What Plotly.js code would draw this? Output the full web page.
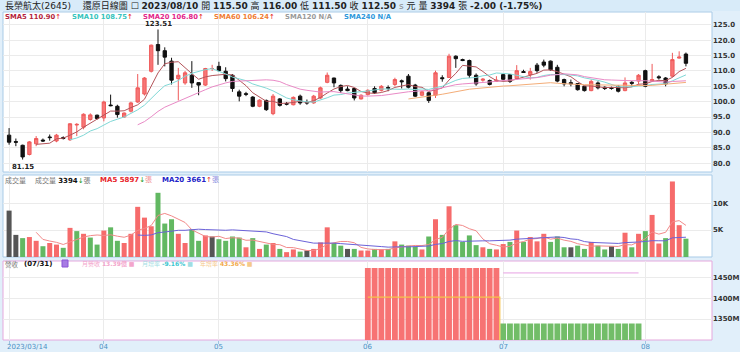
<!DOCTYPE html>
<html><head><meta charset="utf-8">
<script src="https://cdn.plot.ly/plotly-3.0.1.min.js"></script>
<style>html,body{margin:0;padding:0;background:#e1effa}#chart{width:740px;height:352px}</style>
</head><body><div id="chart"></div><script>
// ---------- data ----------
const dates = [
'2023-03-14','2023-03-15','2023-03-16','2023-03-17','2023-03-20','2023-03-21','2023-03-22','2023-03-23','2023-03-24','2023-03-27','2023-03-28','2023-03-29','2023-03-30','2023-03-31',
'2023-04-06','2023-04-07','2023-04-10','2023-04-11','2023-04-12','2023-04-13','2023-04-14','2023-04-17','2023-04-18','2023-04-19','2023-04-20','2023-04-21','2023-04-24','2023-04-25','2023-04-26','2023-04-27','2023-04-28',
'2023-05-02','2023-05-03','2023-05-04','2023-05-05','2023-05-08','2023-05-09','2023-05-10','2023-05-11','2023-05-12','2023-05-15','2023-05-16','2023-05-17','2023-05-18','2023-05-19','2023-05-22','2023-05-23','2023-05-24','2023-05-25','2023-05-26','2023-05-29','2023-05-30','2023-05-31',
'2023-06-01','2023-06-02','2023-06-05','2023-06-06','2023-06-07','2023-06-08','2023-06-09','2023-06-12','2023-06-13','2023-06-14','2023-06-15','2023-06-16','2023-06-19','2023-06-20','2023-06-21','2023-06-26','2023-06-27','2023-06-28','2023-06-29','2023-06-30',
'2023-07-03','2023-07-04','2023-07-05','2023-07-06','2023-07-07','2023-07-10','2023-07-11','2023-07-12','2023-07-13','2023-07-14','2023-07-17','2023-07-18','2023-07-19','2023-07-20','2023-07-21','2023-07-24','2023-07-25','2023-07-26','2023-07-27','2023-07-28','2023-07-31',
'2023-08-01','2023-08-02','2023-08-04','2023-08-07','2023-08-08','2023-08-09','2023-08-10'];
const openP = [89.1,87.0,85.8,82.8,86.3,87.5,88.5,87.2,88.3,87.6,92.4,91.7,94.2,95.6,94.7,98.9,98.5,95.0,96.9,99.9,
102.5,109.9,118.6,116.6,113.2,107.5,106.1,108.6,106.2,105.4,110.8,111.5,109.9,108.6,103.2,102.6,101.5,98.5,100.4,96.1,
100.9,99.4,99.0,101.8,99.7,99.6,101.2,106.3,107.7,105.3,104.1,104.3,100.9,102.3,104.3,103.7,104.6,105.6,106.8,108.3,
105.4,102.1,102.9,102.1,107.8,107.9,114.8,113.7,113.4,108.6,107.0,106.9,106.6,108.8,108.8,107.5,109.8,108.8,111.9,112.9,
113.2,111.2,107.2,106.2,105.9,105.0,103.6,106.1,104.7,104.5,105.0,103.6,106.3,106.7,110.1,106.7,108.1,107.7,108.3,114.2,115.5];
const highP = [91.4,88.0,86.0,87.2,88.8,88.0,89.3,89.5,88.7,93.0,93.0,96.2,96.2,95.8,100.3,102.3,99.0,96.5,100.0,109.0,
108.0,118.6,123.51,117.7,114.3,111.0,110.0,113.2,106.3,111.0,112.0,113.0,111.2,109.0,103.9,103.2,101.8,100.8,100.7,102.5,
101.2,99.9,101.7,102.3,100.7,102.2,104.9,109.5,107.8,105.6,105.0,104.5,102.4,104.0,105.0,105.4,105.3,107.8,107.2,109.0,
105.8,103.5,103.2,110.1,108.6,115.6,115.1,114.0,113.7,109.2,107.7,107.2,108.3,109.0,109.0,111.9,110.4,111.0,112.6,113.7,
113.4,112.0,107.5,107.2,106.0,105.2,107.2,106.6,105.0,104.9,105.3,107.9,106.7,109.0,110.4,112.3,108.6,108.0,115.9,116.4,116.0];
const lowP = [86.0,85.5,81.15,82.5,85.5,86.9,87.3,86.8,87.7,87.2,88.8,91.0,93.8,94.2,93.6,98.5,94.8,94.8,96.5,99.6,
102.0,109.5,112.0,111.5,105.6,100.4,105.5,104.5,102.1,105.1,110.0,109.9,106.6,103.2,100.1,101.8,98.2,98.2,97.0,95.6,
98.4,98.8,98.8,99.0,99.0,99.3,100.9,106.0,104.7,102.8,103.4,100.4,100.7,102.0,102.5,103.3,103.4,105.0,104.3,104.3,
101.5,101.8,99.6,101.2,106.5,107.7,111.0,113.2,107.7,105.2,106.5,105.3,106.4,106.6,106.1,107.3,109.4,107.2,109.4,111.2,
110.1,106.3,105.0,105.0,103.6,103.3,103.4,104.0,103.8,103.9,103.0,103.4,105.0,105.6,104.7,106.5,107.2,105.0,108.0,114.0,111.5];
const closeP = [86.8,86.8,82.0,86.9,88.0,87.2,88.3,89.1,88.0,92.8,92.6,95.9,95.7,94.5,99.9,98.7,95.8,96.3,99.6,104.5,
107.7,118.4,116.6,114.5,107.0,108.6,109.4,106.1,105.4,110.8,110.8,110.1,107.5,104.3,101.8,102.4,98.5,100.5,97.4,101.8,
98.8,99.2,101.4,99.6,99.6,101.8,104.5,108.6,106.1,103.6,103.6,101.2,102.1,103.7,102.9,105.0,104.4,107.2,106.5,104.7,
101.8,103.2,100.4,109.4,107.5,114.8,114.0,113.4,108.6,105.8,107.3,105.6,107.0,107.3,106.6,110.1,109.5,109.8,110.1,111.9,
110.4,106.7,105.8,105.8,103.9,103.6,106.6,104.5,104.3,104.3,103.4,106.1,106.0,108.6,105.0,107.2,107.8,105.8,113.7,114.5,112.5];
const volume = [8600,4100,3500,3700,3000,2000,2600,2300,1700,5400,4800,4300,3600,2300,4900,5500,3000,2600,4300,9300,
7300,5700,11900,6200,7000,4300,2600,5100,3000,4000,3800,3300,3000,3800,3600,1800,3500,1500,2300,2600,
1500,900,1400,1000,1200,1500,2700,5500,2600,2100,1500,1500,1200,1200,1500,1400,1500,2900,2300,2100,
1900,1400,3800,7000,4100,9400,5900,2800,4000,2200,1800,1500,1400,2400,2800,4900,2800,3700,2900,4300,
2800,3800,1800,1800,2100,1500,2800,2100,1400,2000,1500,4500,1800,4300,4800,7800,2500,3500,14000,5900,3394];
const revMonths = ['2023-06','2023-07'];
const revValues = [1474, 1339];       // 月營收 (百萬)
const revMoM = [8.4, -9.16];          // 月增率 %
const revLastYear = [1403, 1290];     // 去年同月營收 (百萬, 七月低於顯示範圍)
const revPrevMonth = [null, 1462];    // 前月營收線 (百萬)
const priceTicks = [80,85,90,95,100,105,110,115,120,125];
const volTicks = [5000,10000];
const volTickText = ['5K','10K'];
const revTicks = [1350,1400,1450];
const revTickText = ['1350M','1400M','1450M'];

// ---------- helpers ----------
const xi = dates.map((d,i)=>i);
function sma(arr,n){return arr.map((v,i)=>{if(i<n-1)return null;let s=0;for(let k=i-n+1;k<=i;k++)s+=arr[k];return s/n;});}
const X = px => (px-3)/709, Y = py => (340-py)/328;
const RED='#f66b6b', GREEN='#62b862', GRAY='#555';

const volColors = closeP.map((c,i)=> i===0 ? GRAY : (c>closeP[i-1]?RED:(c<closeP[i-1]?GREEN:GRAY)));

const tickIdx=[], tickTxt=[];
dates.forEach((d,i)=>{ if(i===0 || d.slice(5,7)!==dates[i-1].slice(5,7)){ tickIdx.push(i); tickTxt.push(i===0?d.replace(/-/g,'/'):d.slice(5,7)); }});

const revX=[], revY=[], revC=[], lyY=[], pmY=[];
dates.forEach((d,i)=>{ const k=revMonths.indexOf(d.slice(0,7)); if(k>=0){revX.push(i);revY.push(revValues[k]);lyY.push(revLastYear[k]);pmY.push(revPrevMonth[k]);revC.push(revMoM[k]>=0?'#f77373':'#72bd68');}});

let hiI=0, loI=0;
highP.forEach((v,i)=>{if(v>highP[hiI])hiI=i;}); lowP.forEach((v,i)=>{if(v<lowP[loI])loI=i;});

const traces = [
 {type:'candlestick', x:xi, open:openP, high:highP, low:lowP, close:closeP, xaxis:'x', yaxis:'y',
  increasing:{line:{color:'#ef5a5a',width:1}, fillcolor:'#f77777'},
  decreasing:{line:{color:'#111',width:1}, fillcolor:'#111'}, whiskerwidth:0, hoverinfo:'skip'},
 {type:'scatter',mode:'lines',x:xi,y:sma(closeP,5),line:{color:'#b4545a',width:1},yaxis:'y'},
 {type:'scatter',mode:'lines',x:xi,y:sma(closeP,10),line:{color:'#80d8d6',width:1},yaxis:'y'},
 {type:'scatter',mode:'lines',x:xi,y:sma(closeP,20),line:{color:'#e98ac6',width:1},yaxis:'y'},
 {type:'scatter',mode:'lines',x:xi,y:sma(closeP,60),line:{color:'#f4ad78',width:1},yaxis:'y'},
 {type:'bar',x:xi,y:volume,marker:{color:volColors,line:{width:0}},width:0.74,yaxis:'y2'},
 {type:'scatter',mode:'lines',x:xi,y:sma(volume,5),line:{color:'#f28a8a',width:1},yaxis:'y2'},
 {type:'scatter',mode:'lines',x:xi,y:sma(volume,20),line:{color:'#6b62d8',width:1},yaxis:'y2'},
 {type:'bar',x:revX,y:revY,marker:{color:revC,line:{width:0}},width:0.86,yaxis:'y3'},
 {type:'scatter',mode:'lines',x:revX,y:lyY,line:{color:'#f5c24a',width:1.2,shape:'hvh'},yaxis:'y3',cliponaxis:true},
 {type:'scatter',mode:'lines',x:revX,y:pmY,line:{color:'#e7a2e3',width:1},yaxis:'y3'}
];

const tf = {family:'DejaVu Sans, Verdana',size:7,color:'#333',weight:'bold'};
const gc = '#ebebeb';
function ann(px,py,text,font,extra){return Object.assign({xref:'paper',yref:'paper',x:X(px),y:Y(py),xanchor:'left',yanchor:'middle',text:text,showarrow:false,font:Object.assign({family:'DejaVu Sans, Noto Sans CJK TC',size:8,color:'#333'},font||{})},extra||{});}
const up = '<span style="color:#e81818">↑</span>';
const dn = '<span style="color:#1a9a1a">↓</span>';

const annotations = [
 ann(3,5,'長榮航太(2645)　 還原日線圖 ☐ <b>2023/08/10</b> 開 <b>115.50</b> 高 <b>116.00</b> 低 <b>111.50</b> 收 <b>112.50</b> <span style="color:#888">s</span> 元 量 <b>3394</b> 張 <b>-2.00 (-1.75%)</b>',{size:9,color:'#222'}),
 ann(3,17,'<b>SMA5 110.90</b>'+up,{size:6.8,color:'#b51f3d'}),
 ann(70,17,'<b>SMA10 108.75</b>'+up,{size:6.8,color:'#36c4bd'}),
 ann(141,17,'<b>SMA20 106.80</b>'+up,{size:6.8,color:'#e3268a'}),
 ann(212,17,'<b>SMA60 106.24</b>'+up,{size:6.8,color:'#f07d35'}),
 ann(283,17,'<b>SMA120 N/A</b>',{size:6.8,color:'#9a9a9a'}),
 ann(342,17,'<b>SMA240 N/A</b>',{size:6.8,color:'#2e98dc'}),
 {xref:'x',yref:'y',x:hiI,y:highP[hiI],text:'<b>'+highP[hiI].toFixed(2)+'</b>',showarrow:false,yanchor:'bottom',yshift:-1,font:{family:'DejaVu Sans',size:7,color:'#222'}},
 {xref:'x',yref:'y',x:loI,y:lowP[loI],text:'<b>'+lowP[loI].toFixed(2)+'</b>',showarrow:false,yanchor:'top',yshift:-1,font:{family:'DejaVu Sans',size:7,color:'#222'}},
 ann(3,180,'成交量',{size:7,color:'#777'}),
 ann(33,180,'成交量 <b style="color:#111">3394</b>'+dn+'張',{size:7,color:'#777'}),
 ann(98,180,'<b>MA5 5897</b>'+dn+'<span style="color:#f09090">張</span>',{size:7,color:'#e8232a'}),
 ann(160,180,'<b>MA20 3661</b>'+up+'<span style="color:#8c8ce0">張</span>',{size:7,color:'#2222c8'}),
 ann(3,264,'營收',{size:6.5,color:'#777'}),
 ann(22,264,'<b>(07/31)</b>',{size:7,color:'#111'}),
 ann(80,264,'月營收 <b>13.39億</b> ■',{size:6,color:'#f3a5cb'}),
 ann(140,264,'月增率 <b style="color:#3cc6cf">-9.16%</b> ■',{size:6,color:'#9fdde3'}),
 ann(198,264,'年增率 <b style="color:#f1a94a">43.36%</b> ■',{size:6,color:'#f5c98a'})
];
tickIdx.forEach((t,k)=>annotations.push({xref:'x',yref:'paper',x:t,y:Y(346.5),xanchor:k===0?'left':'center',yanchor:'middle',xshift:k===0?-4:0,showarrow:false,text:tickTxt[k],font:{family:'DejaVu Sans',size:7,color:'#4b8fc4'}}));

const shapes = [
 {type:'rect',xref:'paper',yref:'paper',x0:0,x1:1,y0:Y(172),y1:1,fillcolor:'#fff',line:{color:'#a9cbe7',width:1},layer:'below'},
 {type:'rect',xref:'paper',yref:'paper',x0:0,x1:1,y0:Y(257),y1:Y(175),fillcolor:'#fff',line:{color:'#a9cbe7',width:1},layer:'below'},
 {type:'rect',xref:'paper',yref:'paper',x0:0,x1:1,y0:0,y1:Y(261),fillcolor:'#fff',line:{color:'#e5a8dd',width:1},layer:'below'},
 {type:'rect',xref:'paper',yref:'paper',x0:X(-5),x1:X(745),y0:Y(11),y1:Y(-5),fillcolor:'#d8ebf9',line:{width:0},layer:'below'},
 {type:'rect',xref:'paper',yref:'paper',x0:X(62),x1:X(68),y0:Y(267),y1:Y(260),fillcolor:'#a77be3',line:{color:'#8a55d6',width:1},layer:'above'}
];

const layout = {
 width:740,height:352,margin:{l:3,r:28,t:12,b:12},
 paper_bgcolor:'#e1effa',plot_bgcolor:'rgba(0,0,0,0)',showlegend:false,hovermode:false,
 xaxis:{domain:[0,1],range:[-0.9,103.85],anchor:'y3',tickmode:'array',tickvals:tickIdx,ticktext:tickIdx.map(()=>''),
   showgrid:true,gridcolor:gc,zeroline:false,showline:false,ticks:'outside',ticklen:3,tickcolor:'#9fc4e0',
   rangeslider:{visible:false},fixedrange:true},
 yaxis:{domain:[Y(172),1],range:[77.1,129.2],side:'right',tickmode:'array',tickvals:priceTicks,
   ticktext:priceTicks.map(v=>v.toFixed(1)),showgrid:true,gridcolor:gc,zeroline:false,tickfont:tf,ticks:'',anchor:'x'},
 yaxis2:{domain:[Y(257),Y(175)],range:[0,15200],side:'right',tickmode:'array',tickvals:volTicks,ticktext:volTickText,
   showgrid:true,gridcolor:gc,zeroline:false,tickfont:tf,ticks:'',anchor:'x'},
 yaxis3:{domain:[0,Y(261)],range:[1299,1491],side:'right',tickmode:'array',tickvals:revTicks,ticktext:revTickText,
   showgrid:true,gridcolor:gc,zeroline:false,tickfont:tf,ticks:'',anchor:'x'},
 boxgap:0.3,
 annotations:annotations,shapes:shapes
};
Plotly.newPlot('chart',traces,layout,{staticPlot:true,displayModeBar:false});
</script></body></html>
